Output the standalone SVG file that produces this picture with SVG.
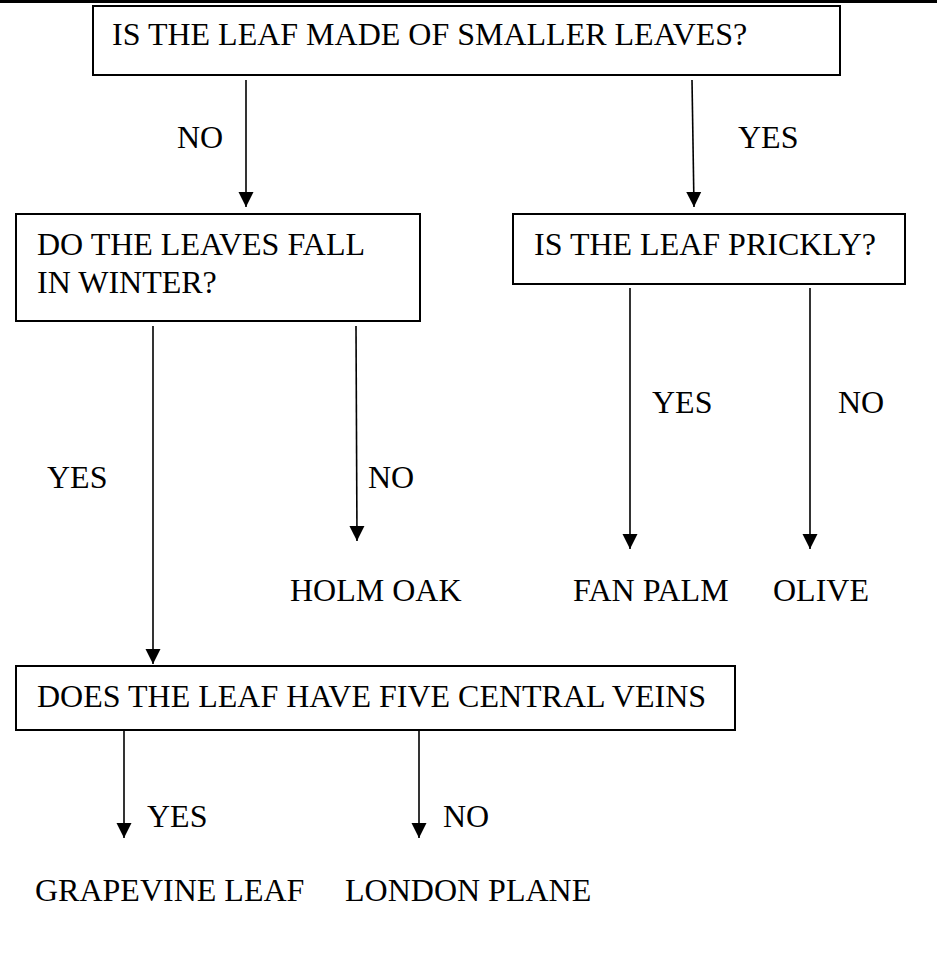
<svg xmlns="http://www.w3.org/2000/svg" width="937" height="978" viewBox="0 0 937 978">
<style>
.box{fill:#fff;stroke:#000;stroke-width:2}
.t{font-family:"Liberation Serif","Times New Roman",serif;font-size:32px;fill:#000}
.c{stroke:#000;stroke-width:1.6;fill:none}
</style>
<defs>
<marker id="ah" markerUnits="userSpaceOnUse" markerWidth="16" markerHeight="16" viewBox="0 0 16 16" refX="15" refY="8" orient="auto">
<path d="M0,0.5 L15,8 L0,15.5 Z" fill="#000"/>
</marker>
</defs>
<rect width="937" height="978" fill="#fff"/>
<rect x="0" y="0" width="937" height="3" fill="#000"/>
<g id="q1">
<rect class="box" x="93" y="6" width="747" height="69"/>
<text class="t" x="112" y="45">IS THE LEAF MADE OF SMALLER LEAVES?</text>
</g>
<g id="q2">
<rect class="box" x="16" y="214" width="404" height="107"/>
<text class="t" x="37" y="255">DO THE LEAVES FALL</text>
<text class="t" x="37" y="293">IN WINTER?</text>
</g>
<g id="q3">
<rect class="box" x="513" y="214" width="392" height="70"/>
<text class="t" x="534" y="255">IS THE LEAF PRICKLY?</text>
</g>
<g id="q4">
<rect class="box" x="16" y="666" width="719" height="64"/>
<text class="t" x="37" y="707">DOES THE LEAF HAVE FIVE CENTRAL VEINS</text>
</g>
<g id="holm-oak"><text class="t" x="290" y="601">HOLM OAK</text></g>
<g id="fan-palm"><text class="t" x="573" y="601">FAN PALM</text></g>
<g id="olive"><text class="t" x="773" y="601">OLIVE</text></g>
<g id="grapevine"><text class="t" x="35" y="901">GRAPEVINE LEAF</text></g>
<g id="london-plane"><text class="t" x="345" y="901">LONDON PLANE</text></g>
<g id="connectors">
<path class="c" d="M246,80 L246,207" marker-end="url(#ah)"/>
<path class="c" d="M692,80 L694,207" marker-end="url(#ah)"/>
<path class="c" d="M153,326 L153,664" marker-end="url(#ah)"/>
<path class="c" d="M356,326 L357,541" marker-end="url(#ah)"/>
<path class="c" d="M630,288 L630,549" marker-end="url(#ah)"/>
<path class="c" d="M810,288 L810,549" marker-end="url(#ah)"/>
<path class="c" d="M124,730 L124,838" marker-end="url(#ah)"/>
<path class="c" d="M419,730 L419,838" marker-end="url(#ah)"/>
<text class="t" x="177" y="148">NO</text>
<text class="t" x="738" y="148">YES</text>
<text class="t" x="47" y="488">YES</text>
<text class="t" x="368" y="488">NO</text>
<text class="t" x="652" y="413">YES</text>
<text class="t" x="838" y="413">NO</text>
<text class="t" x="147" y="827">YES</text>
<text class="t" x="443" y="827">NO</text>
</g>
</svg>
